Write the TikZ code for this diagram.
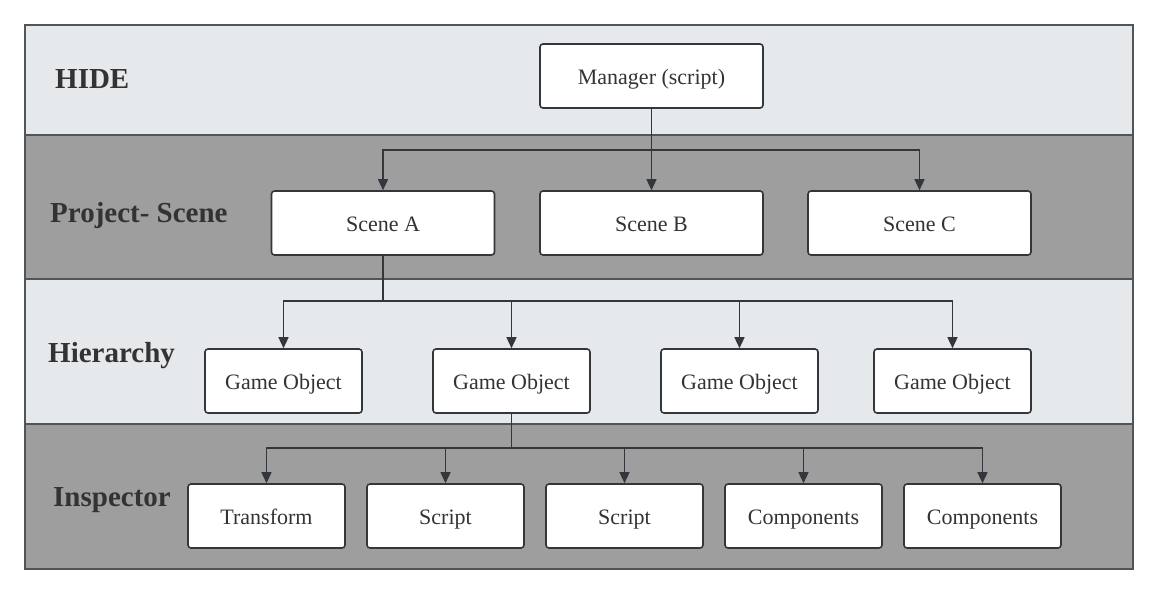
\documentclass[tikz,border=0pt]{standalone}
\usepackage{fontspec}
\setmainfont{Liberation Serif}
\usetikzlibrary{arrows.meta}
\definecolor{bandlight}{HTML}{E6E9EC}
\definecolor{banddark}{HTML}{9E9E9E}
\definecolor{edgegray}{HTML}{33373B}
\definecolor{ink}{HTML}{333333}
\tikzset{
  box/.style={draw=edgegray, line width=1.6pt, fill=white, rounded corners=3pt,
    minimum width=157pt, minimum height=64pt, inner sep=0pt, text=ink,
    text height=19pt, text depth=2pt, font=\fontsize{22}{26}\selectfont},
  widebox/.style={box, minimum width=223pt},
  layer/.style={anchor=base west, inner sep=0pt, text=ink, font=\fontsize{29}{33}\selectfont\bfseries},
  link/.style={draw=edgegray, line width=1.4pt, -{Triangle[length=11pt,width=10pt]}},
}
\begin{document}
\begin{tikzpicture}[x=1pt,y=-1pt]
\useasboundingbox (0,0) rectangle (1156,595);

% Bands
\fill[bandlight] (25,25) rectangle (1133,135);
\fill[banddark] (25,135) rectangle (1133,279);
\fill[bandlight] (25,279) rectangle (1133,424);
\fill[banddark] (25,424) rectangle (1133,569);
\draw[edgegray!85, line width=1.6pt] (25,135) -- (1133,135) (25,279) -- (1133,279) (25,424) -- (1133,424);
\draw[edgegray!85, line width=1.6pt] (25,25) rectangle (1133,569);

% Layer titles
\node[layer] (hide) at (55,88) {HIDE};
\node[layer] (proj) at (50,222) {Project- Scene};
\node[layer] (hier) at (48,362) {Hierarchy};
\node[layer] (insp) at (53,506) {Inspector};

% Manager and scenes
\node[widebox] (mgr) at (651.5,76) {Manager (script)};
\node[widebox] (sa) at (383,223) {Scene A};
\node[widebox] (sb) at (651.5,223) {Scene B};
\node[widebox] (sc) at (919.5,223) {Scene C};

% Game objects
\node[box] (go1) at (283.5,381) {Game Object};
\node[box] (go2) at (511.5,381) {Game Object};
\node[box] (go3) at (739.5,381) {Game Object};
\node[box] (go4) at (952.5,381) {Game Object};

% Inspector items
\foreach \name/\x/\txt in {tr/266.5/Transform, sc1/445.5/Script, sc2/624.5/Script,
                           cp1/803.5/Components, cp2/982.5/Components} {
  \node[box] (\name) at (\x,516) {\txt};
}

% Connectors
\coordinate (split1) at (mgr.south |- 0,150);
\draw[link] (mgr.south) -- (sb.north);
\draw[link] (split1) -| (sa.north);
\draw[link] (split1) -| (sc.north);

\coordinate (split2) at (sa.south |- 0,301);
\draw[draw=edgegray, line width=1.4pt] (sa.south) -- (split2);
\foreach \g in {go1,go2,go3,go4}
  \draw[link] (split2) -| (\g.north);

\coordinate (split3) at (go2.south |- 0,448);
\draw[draw=edgegray, line width=1.4pt] (go2.south) -- (split3);
\foreach \t in {tr,sc1,sc2,cp1,cp2}
  \draw[link] (split3) -| (\t.north);
\end{tikzpicture}
\end{document}
